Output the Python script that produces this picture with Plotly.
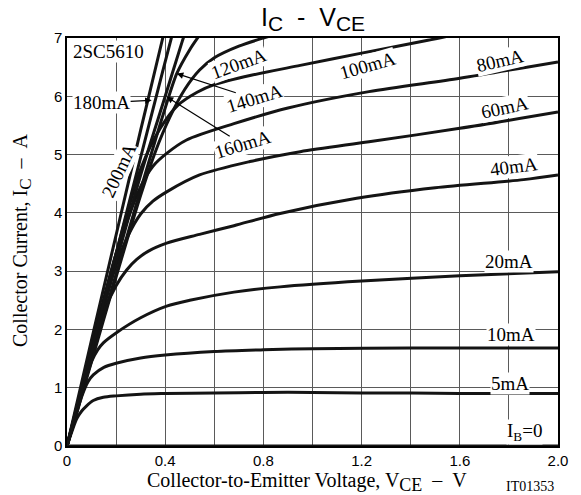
import plotly.graph_objects as go

# Base-current curves of the 2SC5610: collector-emitter voltage (V) and collector current (A)
V_0 = [0.0, 2.0]
I_0 = [0.0, 0.0]

V_5 = [0, 0.02, 0.04, 0.06, 0.08, 0.107, 0.148, 0.2, 0.3, 0.4, 0.6, 0.8, 1.0, 1.2, 1.4, 1.6, 1.8, 2.0]
I_5 = [0, 0.25, 0.47, 0.6, 0.69, 0.78, 0.835, 0.86, 0.89, 0.9, 0.91, 0.92, 0.92, 0.91, 0.91, 0.9, 0.9, 0.9]

V_10 = [0, 0.03, 0.06, 0.085, 0.107, 0.15, 0.2, 0.3, 0.4, 0.6, 0.8, 1.0, 1.4, 1.8, 2.0]
I_10 = [0, 0.42, 0.85, 1.1, 1.22, 1.35, 1.42, 1.51, 1.56, 1.62, 1.65, 1.67, 1.68, 1.68, 1.68]

V_20 = [0, 0.05, 0.1, 0.125, 0.148, 0.2, 0.3, 0.406, 0.5, 0.68, 0.868, 1.2, 1.6, 2.0]
I_20 = [0, 0.75, 1.45, 1.65, 1.77, 1.94, 2.2, 2.4, 2.5, 2.64, 2.73, 2.83, 2.92, 2.99]

V_40 = [0, 0.1, 0.15, 0.2, 0.243, 0.284, 0.33, 0.406, 0.54, 0.68, 0.868, 1.18, 1.5, 1.86, 2.0]
I_40 = [0, 1.55, 2.3, 2.75, 3.02, 3.2, 3.34, 3.48, 3.63, 3.78, 3.99, 4.25, 4.43, 4.57, 4.65]

V_60 = [0, 0.1, 0.2, 0.25, 0.3, 0.35, 0.406, 0.54, 0.745, 0.95, 1.23, 1.6, 2.0]
I_60 = [0, 1.62, 3.1, 3.62, 3.98, 4.2, 4.36, 4.65, 4.88, 5.05, 5.22, 5.45, 5.73]

V_80 = [0, 0.1, 0.2, 0.3, 0.35, 0.406, 0.487, 0.68, 0.9, 1.23, 1.6, 2.0]
I_80 = [0, 1.7, 3.3, 4.45, 4.8, 5.02, 5.25, 5.53, 5.8, 6.08, 6.31, 6.59]

V_100 = [0, 0.1, 0.2, 0.3, 0.38, 0.45, 0.53, 0.6, 0.75, 0.95, 1.2, 1.47, 1.55]
I_100 = [0, 1.65, 3.3, 4.75, 5.45, 5.84, 6.07, 6.2, 6.36, 6.53, 6.74, 6.96, 7.03]

V_120 = [0, 0.1, 0.2, 0.3, 0.36, 0.42, 0.48, 0.54, 0.6, 0.7, 0.8, 0.85]
I_120 = [0, 1.45, 2.9, 4.3, 5.05, 5.65, 6.12, 6.45, 6.66, 6.86, 7.0, 7.06]

V_140 = [0, 0.1, 0.2, 0.3, 0.4, 0.447, 0.5, 0.54]
I_140 = [0, 1.5, 2.95, 4.4, 5.8, 6.39, 6.8, 7.05]

V_160 = [0, 0.1, 0.2, 0.3, 0.4, 0.47, 0.49]
I_160 = [0, 1.6, 3.15, 4.65, 6.0, 6.95, 7.2]

V_180 = [0, 0.1, 0.2, 0.3, 0.36, 0.425, 0.44]
I_180 = [0, 1.66, 3.3, 4.95, 5.94, 7.0, 7.25]

V_200 = [0, 0.1, 0.2, 0.3, 0.39, 0.4]
I_200 = [0, 1.82, 3.62, 5.42, 7.0, 7.2]

series = [
    (V_0, I_0), (V_5, I_5), (V_10, I_10), (V_20, I_20), (V_40, I_40),
    (V_60, I_60), (V_80, I_80), (V_100, I_100), (V_120, I_120),
    (V_140, I_140), (V_160, I_160), (V_180, I_180), (V_200, I_200),
]

# Axis ticks: labelled every 0.4 V, grid every 0.2 V
x_tickvals = [0, 0.4, 0.8, 1.2, 1.6, 2.0]
x_ticktext = ["0", "0.4", "0.8", "1.2", "1.6", "2.0"]
x_minorvals = [0.2, 0.6, 1.0, 1.4, 1.8]
y_tickvals = [0, 1, 2, 3, 4, 5, 6, 7]
y_ticktext = ["0", "1", "2", "3", "4", "5", "6", "7"]

SERIF = "Liberation Serif, Times New Roman, serif"
SANS = "Liberation Sans, Arial, sans-serif"
INK = "#141414"

fig = go.Figure()
for vx, iy in series:
    fig.add_trace(go.Scatter(
        x=vx, y=iy, mode="lines",
        line=dict(color=INK, width=3, shape="spline", smoothing=0.8),
        hoverinfo="skip",
    ))

grid = "#5a5a5a"
fig.update_xaxes(
    range=[0, 2.0], tickmode="array", tickvals=x_tickvals, ticktext=x_ticktext,
    showgrid=True, gridcolor=grid, gridwidth=1, zeroline=False,
    minor=dict(tickmode="array", tickvals=x_minorvals, showgrid=True,
               gridcolor=grid, gridwidth=1, ticks=""),
    showline=True, mirror=True, linecolor="black", linewidth=1.5,
    ticks="", tickfont=dict(family=SANS, size=15, color="black"),
)
fig.update_yaxes(
    range=[0, 7], tickmode="array", tickvals=y_tickvals, ticktext=y_ticktext,
    showgrid=True, gridcolor=grid, gridwidth=1, zeroline=False,
    showline=True, mirror=True, linecolor="black", linewidth=1.5,
    ticks="", tickfont=dict(family=SANS, size=15, color="black"),
)

lab_font = dict(family=SERIF, size=19, color="black")


def label(text, x, y, angle=0):
    fig.add_annotation(
        x=x, y=y, xref="x", yref="y", text=text, showarrow=False,
        textangle=angle, font=lab_font, bgcolor="white", borderpad=0,
        xanchor="center", yanchor="middle",
    )


def arrow_label(text, tx, ty, px, py, angle=0):
    fig.add_annotation(
        x=px, y=py, ax=tx, ay=ty, xref="x", yref="y", axref="x", ayref="y",
        text=text, showarrow=True, arrowhead=2, arrowsize=1.1, arrowwidth=1.2,
        arrowcolor="black", textangle=angle, font=lab_font, bgcolor="white",
        borderpad=0, standoff=0,
    )


label("2SC5610", 0.171, 6.76)
label("200mA", 0.212, 4.72, -65)
label("120mA", 0.70, 6.57, -20)
label("100mA", 1.224, 6.53, -16)
label("80mA", 1.764, 6.62, -13)
label("60mA", 1.784, 5.80, -12)
label("40mA", 1.821, 4.79, -7)
label("20mA", 1.802, 3.17)
label("10mA", 1.808, 1.91)
label("5mA", 1.804, 1.08)
label("I<sub>B</sub>=0", 1.862, 0.24)
arrow_label("180mA", 0.141, 5.89, 0.345, 5.93)
arrow_label("140mA", 0.762, 5.96, 0.447, 6.39, -17)
arrow_label("160mA", 0.713, 5.18, 0.406, 5.99, -17)

# Chart title and axis titles
big_sub = "<span style='font-size:{}px'>{}</span>"
fig.add_annotation(
    xref="paper", yref="paper", x=0.5, y=1 + 19 / 408, xanchor="center", yanchor="middle",
    text="I<sub>" + big_sub.format(21, "C") + "</sub>\u00a0\u00a0-\u00a0\u00a0V<sub>"
         + big_sub.format(21, "CE") + "</sub>",
    showarrow=False, font=dict(family=SANS, size=25, color="black"),
)
fig.add_annotation(
    xref="paper", yref="paper", x=(22 - 67) / 491, y=(446 - 240) / 408,
    xanchor="center", yanchor="middle", textangle=-90, showarrow=False,
    text="Collector Current, I<sub>" + big_sub.format(17, "C") + "</sub>\u00a0\u00a0–\u00a0\u00a0A",
    font=dict(family=SERIF, size=20, color="black"),
)
fig.add_annotation(
    xref="paper", yref="paper", x=(307 - 67) / 491, y=-(482 - 446) / 408,
    xanchor="center", yanchor="middle", showarrow=False,
    text="Collector-to-Emitter Voltage, V<sub>" + big_sub.format(18, "CE")
         + "</sub>\u00a0\u00a0–\u00a0\u00a0V",
    font=dict(family=SERIF, size=20, color="black"),
)
fig.add_annotation(
    xref="paper", yref="paper", x=(530 - 67) / 491, y=-(486 - 446) / 408,
    xanchor="center", yanchor="middle", showarrow=False, text="IT01353",
    font=dict(family=SERIF, size=14, color="black"),
)

fig.update_layout(
    width=581, height=495, margin=dict(l=67, r=23, t=38, b=49),
    plot_bgcolor="white", paper_bgcolor="white", showlegend=False,
)

fig.write_html("out.html")
